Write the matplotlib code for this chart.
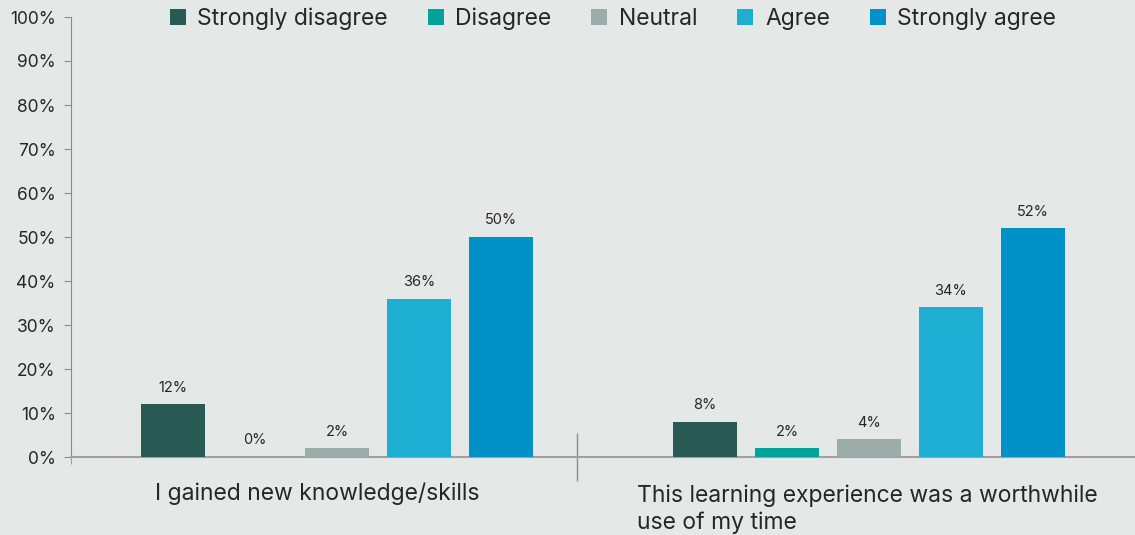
import matplotlib.pyplot as plt
import matplotlib.transforms as mtransforms
import numpy as np

plt.rcParams['font.family'] = ['Inter', 'DejaVu Sans']

categories = ['I gained new knowledge/skills',
              'This learning experience was a worthwhile\nuse of my time']
responses = ['Strongly disagree', 'Disagree', 'Neutral', 'Agree', 'Strongly agree']
values = {
    'Strongly disagree': [12, 8],
    'Disagree': [0, 2],
    'Neutral': [2, 4],
    'Agree': [36, 34],
    'Strongly agree': [50, 52],
}
colors = ['#285a53', '#00a39b', '#9badaa', '#1eaed4', '#0092c6']
yticks = [0, 10, 20, 30, 40, 50, 60, 70, 80, 90, 100]

bg = '#e4e8e7'
txt = '#262626'

fig = plt.figure(figsize=(11.35, 5.35), dpi=100, facecolor=bg)
ax = fig.add_axes([71 / 1135, 78 / 535, 1 - 71 / 1135, 440 / 535])
ax.set_facecolor(bg)

x = np.arange(len(categories))
step = 0.154
width = 0.12
for i, (name, c) in enumerate(zip(responses, colors)):
    pos = x + (i - 2) * step
    ax.bar(pos, values[name], width, color=c, label=name, zorder=3)
    for p, v in zip(pos, values[name]):
        ax.text(p, v + 2.2, f'{v}%', ha='center', va='bottom',
                fontsize=10.5, color=txt)

ax.set_xlim(-0.5, 1.5)
ax.set_ylim(0, 100)
ax.set_yticks(yticks)
ax.set_yticklabels([f'{t}%' for t in yticks], fontsize=12.5, color=txt)
ax.tick_params(axis='y', length=5, color='#8c8c8c', pad=6)

for s in ['top', 'right']:
    ax.spines[s].set_visible(False)
ax.spines['left'].set_color('#8c8c8c')
ax.spines['bottom'].set_color('#a0a0a0')
ax.spines['bottom'].set_linewidth(1.5)

# category separator
ax.set_xticks([0.4515])
ax.set_xticklabels([''])
ax.tick_params(axis='x', direction='inout', length=35, color='#8c8c8c', width=1)
ax.set_xticks([-0.5], minor=True)
ax.tick_params(axis='x', which='minor', direction='out', length=5, color='#8c8c8c')

trans = mtransforms.blended_transform_factory(ax.transData, fig.transFigure)
ax.text(-0.038, 1 - 494 / 535, categories[0], transform=trans, ha='center',
        va='center', fontsize=16.5, color=txt)
ax.text(0.997, 1 - 509 / 535, categories[1], transform=trans, ha='center',
        va='center', fontsize=16.5, color=txt, multialignment='left',
        linespacing=1.25)

leg = fig.legend(loc='upper center', bbox_to_anchor=(0.54, 1.025), ncol=5,
                 frameon=False, fontsize=16.5, handlelength=0.7, handleheight=0.7,
                 handletextpad=0.5, columnspacing=1.75)
for t in leg.get_texts():
    t.set_color(txt)

fig.savefig('out.png', dpi=100, facecolor=bg)
